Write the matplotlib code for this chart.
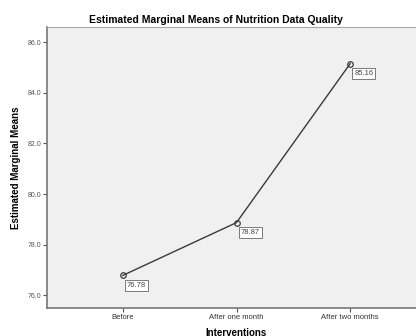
import matplotlib
matplotlib.use('Agg')
import matplotlib.pyplot as plt

plt.rcParams['font.family'] = ['Liberation Sans', 'DejaVu Sans']

# data
categories = ['Before', 'After one month', 'After two months']
means = [76.78, 78.87, 85.16]
yticks = [76.0, 78.0, 80.0, 82.0, 84.0, 86.0]

fig = plt.figure(figsize=(4.16, 3.36), dpi=100)
# axes runs past the right edge like the original export
ax = fig.add_axes([47/416, 28/336, 379/416, 281/336])
ax.set_facecolor('#f0f0f0')

xs = list(range(len(categories)))
ax.plot(xs, means, color='#3a3a3a', lw=1.0, marker='o', ms=4,
        mfc='none', mec='#3a3a3a', mew=0.9, zorder=3)

for x, y in zip(xs, means):
    ax.annotate('%.2f' % y, (x, y), xytext=(3, -7), textcoords='offset points',
                fontsize=5.5, color='#444444', ha='left', va='center',
                bbox=dict(boxstyle='square,pad=0.25', fc='white', ec='#666666', lw=0.6))

ax.set_xlim(-0.667, 2.667)
ax.set_ylim(75.49, 86.61)
ax.set_xticks(xs)
ax.set_xticklabels(categories, fontsize=5.5, color='#333333')
ax.set_yticks(yticks)
ax.set_yticklabels(['%.1f' % t for t in yticks], fontsize=5, color='#555555')
ax.tick_params(length=3, width=0.8, color='#555555', pad=1)

for s in ['left', 'bottom']:
    ax.spines[s].set_color('#777777')
    ax.spines[s].set_linewidth(1.2)
for s in ['top', 'right']:
    ax.spines[s].set_color('#aaaaaa')
    ax.spines[s].set_linewidth(0.8)

ax.set_xlabel('Interventions', fontsize=7, fontweight='bold', labelpad=5)
ax.set_ylabel('Estimated Marginal Means', fontsize=7, fontweight='bold', labelpad=5)
fig.text(216/416, 1 - 20/336, 'Estimated Marginal Means of Nutrition Data Quality',
         ha='center', va='center', fontsize=7.5, fontweight='bold')

fig.savefig('out.png', dpi=100)
